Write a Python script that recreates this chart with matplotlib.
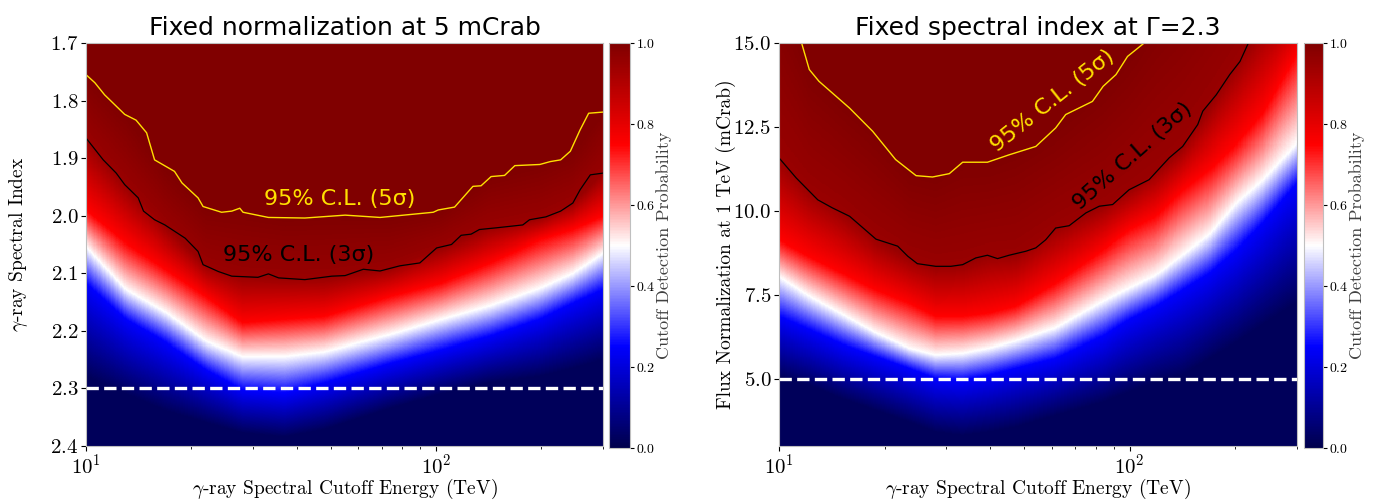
import numpy as np
import matplotlib
matplotlib.use("Agg")
import matplotlib.pyplot as plt

plt.rcParams['font.family'] = 'cmr10'
plt.rcParams['mathtext.fontset'] = 'cm'
plt.rcParams['axes.formatter.use_mathtext'] = True

# ---- left panel : fixed normalization (5 mCrab) ----
# 95% C.L. (5 sigma) line
e5_L = [10, 10.6, 11.3, 12.9, 13.9, 14.9, 15.7, 17.9, 18.8, 20.9, 21.6, 24.4, 26.1, 27.5, 28.1, 33.2,
        42.2, 55, 69.2, 98.2, 101.5, 113, 127.5, 134.5, 143.7, 157, 168, 198, 212, 227, 242, 258, 273, 300]
g5_L = [1.755, 1.769, 1.790, 1.824, 1.834, 1.856, 1.903, 1.923, 1.943, 1.969, 1.984, 1.994, 1.992, 1.987,
        1.994, 2.003, 2.004, 1.999, 2.003, 1.994, 1.990, 1.985, 1.949, 1.948, 1.932, 1.930, 1.913, 1.911,
        1.906, 1.903, 1.888, 1.851, 1.822, 1.820]
# 95% C.L. (3 sigma) line
e3_L = [10, 11.2, 12.2, 12.9, 14.1, 14.6, 15.7, 16.8, 19.2, 20.9, 21.6, 23.9, 26.1, 31.0, 33.2, 35.5,
        42.2, 50.4, 55, 62, 69.2, 78.9, 89.9, 100.4, 110.7, 118, 126, 133, 148.8, 177, 185, 206, 227,
        246, 258, 276, 300]
g3_L = [1.865, 1.903, 1.926, 1.946, 1.969, 1.992, 2.007, 2.016, 2.039, 2.062, 2.085, 2.097, 2.105, 2.107,
        2.101, 2.108, 2.111, 2.105, 2.104, 2.093, 2.096, 2.087, 2.082, 2.056, 2.050, 2.034, 2.032, 2.024,
        2.021, 2.016, 2.007, 2.002, 1.992, 1.978, 1.955, 1.929, 1.926]
# probability map: index where probability reaches 1.0/0.95/0.75/0.5/0.25/0.02
eh_L = [10, 13, 17, 22, 28, 37, 48, 74, 103, 142, 198, 246, 300]
L100 = [1.755, 1.825, 1.92, 1.985, 1.99, 2.003, 2.0, 2.003, 1.99, 1.933, 1.911, 1.888, 1.82]
L95 = [1.865, 1.946, 2.02, 2.085, 2.105, 2.108, 2.108, 2.09, 2.056, 2.021, 2.004, 1.978, 1.926]
L75 = [1.99, 2.047, 2.094, 2.14, 2.186, 2.18, 2.175, 2.14, 2.117, 2.082, 2.042, 2.024, 2.001]
L50 = [2.053, 2.128, 2.169, 2.218, 2.244, 2.244, 2.236, 2.207, 2.181, 2.157, 2.126, 2.100, 2.065]
L25 = [2.117, 2.18, 2.221, 2.267, 2.302, 2.308, 2.29, 2.256, 2.233, 2.21, 2.18, 2.152, 2.128]
L02 = [2.279, 2.31, 2.34, 2.36, 2.378, 2.385, 2.372, 2.335, 2.31, 2.29, 2.279, 2.265, 2.25]

# ---- right panel : fixed spectral index (2.3) ----
e5_R = [11.6, 12.2, 13.0, 15.9, 18.5, 21.5, 24.6, 27.4, 30.6, 33.4, 39.3, 45.3, 54, 61.5, 65.7, 78.3,
        84.0, 91.4, 98.6, 110]
n5_R = [15.0, 14.21, 13.86, 13.06, 12.37, 11.53, 11.05, 11.01, 11.11, 11.45, 11.45, 11.67, 11.92, 12.47,
        12.87, 13.26, 13.71, 14.06, 14.60, 15.0]
e3_R = [10, 11.2, 12.9, 14.2, 15.9, 18.9, 21.8, 23.3, 24.8, 28.0, 30.9, 33.4, 36.4, 39.3, 42.0, 45.3,
        50.6, 54.0, 57.6, 61.5, 67.2, 75, 81.9, 89.4, 99.6, 113.6, 129.6, 141.6, 156.3, 161.6, 176.6,
        192.9, 206.3, 218]
n3_R = [11.58, 10.98, 10.33, 10.09, 9.84, 9.16, 8.95, 8.65, 8.43, 8.35, 8.35, 8.40, 8.60, 8.68, 8.58,
        8.68, 8.80, 8.90, 9.14, 9.49, 9.56, 9.94, 10.14, 10.19, 10.63, 10.93, 11.58, 11.92, 12.57, 12.97,
        13.46, 14.06, 14.45, 15.0]
eh_R = [10, 12.2, 15.2, 18.9, 23.5, 28, 33.4, 39.7, 47.3, 61.5, 84, 99.6, 119, 141.6, 168.8, 202, 240, 300]
R02 = [5.07, 4.8, 4.4, 4.05, 3.7, 3.4, 3.3, 3.4, 3.55, 3.9, 4.3, 4.6, 4.9, 5.1, 5.6, 6.07, 6.6, 7.26]
R25 = [6.86, 6.46, 6.02, 5.67, 5.32, 5.02, 4.97, 5.12, 5.32, 5.62, 6.27, 6.76, 7.16, 7.65, 8.15, 8.85, 9.64, 10.83]
R50 = [8.05, 7.46, 6.91, 6.36, 5.92, 5.72, 5.77, 5.92, 6.12, 6.51, 7.31, 7.70, 8.10, 8.70, 9.29, 10.24, 10.93, 12.02]
R75 = [9.14, 8.65, 8.15, 7.65, 7.26, 6.86, 6.86, 6.96, 7.16, 7.85, 8.85, 9.44, 9.84, 10.63, 11.23, 12.02, 12.92, 14.70]
R95 = [11.58, 10.6, 9.95, 9.16, 8.62, 8.35, 8.40, 8.66, 8.7, 9.49, 10.17, 10.63, 11.2, 11.92, 13.1, 14.4, 15.6, 16.5]
R100 = [16.5, 14.21, 13.2, 12.3, 11.2, 11.0, 11.45, 11.45, 11.75, 12.47, 13.71, 14.65, 16.0, 17.0, 18.0, 19.0, 20.0, 21.0]

yellow = '#ffe000'
title_font = 'DejaVu Sans'
probs = [1.0, 0.95, 0.75, 0.5, 0.25, 0.02]


def prob_map(efine, yfine, ecols, levels):
    # levels per column, spread over the fine energy grid (log spacing)
    lv = np.array([np.interp(np.log10(efine), np.log10(ecols), l) for l in levels])
    cols = []
    for j in range(len(efine)):
        col = lv[:, j]
        order = np.argsort(col)
        cols.append(np.interp(yfine, col[order], np.array(probs)[order]))
    return np.array(cols).T


def style_axes(ax, cax, mesh, ylab_x):
    ax.set_xscale('log')
    ax.set_xlim(10, 300)
    ax.set_xlabel(r'$\gamma$-ray Spectral Cutoff Energy (TeV)', fontsize=14)
    ax.xaxis.set_label_coords(0.5, -0.077)
    ax.yaxis.set_label_coords(ylab_x, 0.5)
    ax.tick_params(labelsize=15, pad=2)
    for s in ax.spines.values():
        s.set_color('0.75')
    cb = plt.colorbar(mesh, cax=cax)
    cb.set_label('Cutoff Detection Probability', fontsize=13, color='0.25', labelpad=1)
    cb.ax.tick_params(labelsize=10, length=3, pad=1)
    cb.outline.set_edgecolor('0.75')
    cb.set_ticks([0, 0.2, 0.4, 0.6, 0.8, 1.0])


fig = plt.figure(figsize=(13.78, 5.03), dpi=100)
ax1 = fig.add_axes([86 / 1378, 57 / 503, 517 / 1378, 403 / 503])
cax1 = fig.add_axes([609 / 1378, 55 / 503, 21 / 1378, 405 / 503])
ax2 = fig.add_axes([779 / 1378, 57 / 503, 518 / 1378, 403 / 503])
cax2 = fig.add_axes([1304 / 1378, 55 / 503, 19 / 1378, 405 / 503])

e_fine = np.logspace(1, np.log10(300), 400)

# left
y_L = np.linspace(1.7, 2.4, 400)
Z_L = prob_map(e_fine, y_L, eh_L, [L100, L95, L75, L50, L25, L02])
m1 = ax1.pcolormesh(e_fine, y_L, Z_L, shading='auto', cmap='seismic', vmin=0, vmax=1, rasterized=True)
ax1.plot(e5_L, g5_L, color=yellow, lw=1)
ax1.plot(e3_L, g3_L, color='black', lw=0.9)
ax1.axhline(2.3, color='white', ls='--', lw=2.4)
ax1.text(53.2, 1.971, '95% C.L. (5σ)', color=yellow, fontsize=16, family=title_font,
         ha='center', va='center')
ax1.text(40.4, 2.068, '95% C.L. (3σ)', color='black', fontsize=16, family=title_font,
         ha='center', va='center')
ax1.set_ylim(2.4, 1.7)
ax1.set_yticks([1.7, 1.8, 1.9, 2.0, 2.1, 2.2, 2.3, 2.4])
ax1.set_ylabel(r'$\gamma$-ray Spectral Index', fontsize=14)
ax1.set_title('Fixed normalization at 5 mCrab', fontsize=18, family=title_font)
style_axes(ax1, cax1, m1, -0.108)

# right
y_R = np.linspace(3, 15, 400)
Z_R = prob_map(e_fine, y_R, eh_R, [R100, R95, R75, R50, R25, R02])
m2 = ax2.pcolormesh(e_fine, y_R, Z_R, shading='auto', cmap='seismic', vmin=0, vmax=1, rasterized=True)
ax2.plot(e5_R, n5_R, color=yellow, lw=1)
ax2.plot(e3_R, n3_R, color='black', lw=0.9)
ax2.axhline(5.0, color='white', ls='--', lw=2.4)
ax2.text(60.4, 13.27, '95% C.L. (5σ)', color=yellow, fontsize=16, family=title_font,
         ha='center', va='center', rotation=38.5)
ax2.text(102, 11.63, '95% C.L. (3σ)', color='black', fontsize=16, family=title_font,
         ha='center', va='center', rotation=41.5)
ax2.set_ylim(3, 15)
ax2.set_yticks([5.0, 7.5, 10.0, 12.5, 15.0])
ax2.set_ylabel('Flux Normalization at 1 TeV (mCrab)', fontsize=14)
ax2.set_title('Fixed spectral index at Γ=2.3', fontsize=18, family=title_font)
style_axes(ax2, cax2, m2, -0.083)

fig.savefig('out.png', dpi=100)
